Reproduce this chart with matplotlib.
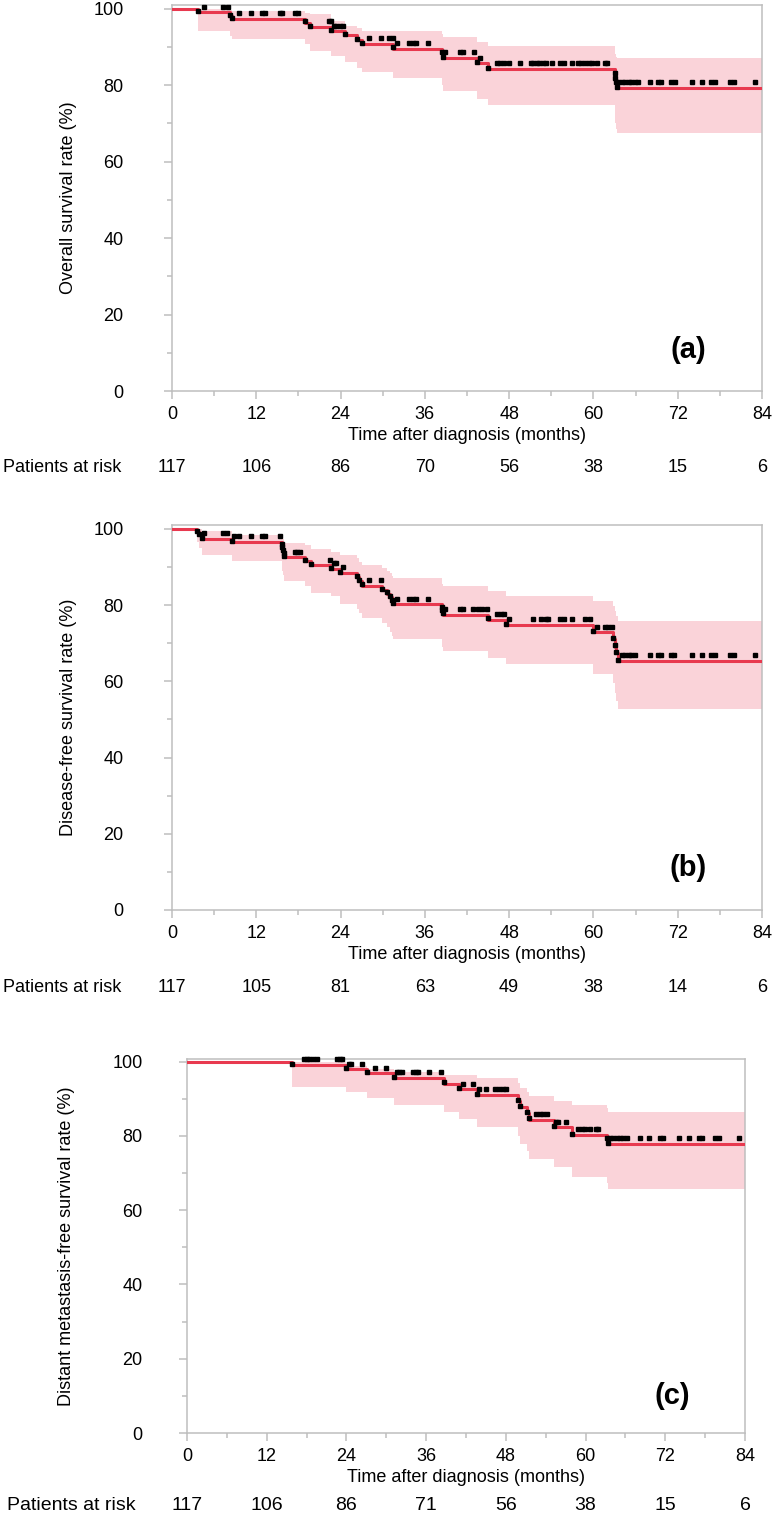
import numpy as np
import matplotlib
matplotlib.use("Agg")
import matplotlib.pyplot as plt
from matplotlib.ticker import MultipleLocator

plt.rcParams['font.family'] = ['Liberation Sans', 'DejaVu Sans']

# ---------------- data ----------------
x_ticks = [0, 12, 24, 36, 48, 60, 72, 84]
y_ticks = [0, 20, 40, 60, 80, 100]

# Panel (a) overall survival
a_time = [0, 3.7, 8.2, 8.6, 18.9, 19.6, 22.7, 24.6, 26.3, 27.0, 31.5, 38.4, 38.6,
          43.4, 45.0, 63.0, 63.1, 63.2, 63.3]
a_surv = [100, 99.1, 98.2, 97.3, 96.4, 95.3, 94.1, 93.1, 91.9, 90.8, 89.6, 88.3, 87.1,
          85.7, 84.2, 83.0, 81.7, 80.5, 79.3]
a_lower = [100, 94.3, 93.0, 92.1, 90.8, 89.0, 87.7, 86.0, 84.6, 83.4, 81.9, 80.0, 78.4,
           76.4, 74.9, 72.0, 70.0, 68.5, 67.4]
a_upper = [100, 100, 99.6, 99.4, 98.9, 98.7, 96.9, 95.6, 94.9, 94.3, 94.1, 93.3, 92.5,
           91.2, 90.3, 89.0, 88.2, 87.5, 87.1]
a_cens = [4.5, 7.3, 8.0, 9.5, 11.3, 12.8, 13.2, 15.4, 15.7, 17.5, 18.0, 22.3, 22.6, 23.0,
          23.4, 23.9, 24.3, 28.1, 29.8, 30.9, 31.4, 32.0, 33.8, 34.3, 34.7, 36.4, 38.8,
          41.0, 41.4, 43.0, 43.8, 46.2, 46.7, 47.2, 48.0, 49.5, 51.1, 51.4, 51.9, 52.3,
          52.8, 53.2, 54.1, 55.3, 55.8, 57.0, 57.8, 58.3, 58.8, 59.3, 59.8, 60.5, 61.7,
          62.0, 63.5, 64.0, 64.5, 65.0, 65.4, 65.9, 66.4, 68.1, 69.2, 69.6, 71.1, 71.6,
          74.0, 75.4, 76.8, 77.3, 79.4, 80.0, 83.0]
a_risk = [117, 106, 86, 70, 56, 38, 15, 6]

# Panel (b) disease-free survival
b_time = [0, 3.5, 3.9, 4.3, 8.5, 15.6, 15.7, 15.8, 15.9, 16.0, 18.9, 19.8, 22.7, 23.9,
          26.3, 26.6, 27.0, 29.9, 30.6, 31.0, 31.3, 31.5, 38.4, 38.5, 38.6, 45.0, 47.6,
          60.0, 62.8, 63.0, 63.2, 63.5]
b_surv = [100, 99.1, 98.3, 97.4, 96.6, 95.8, 95.0, 94.1, 93.3, 92.5, 91.5, 90.4, 89.5,
          88.4, 87.3, 86.2, 85.1, 83.9, 83.0, 82.0, 81.1, 80.2, 79.3, 78.4, 77.5, 76.2,
          74.8, 72.8, 71.0, 69.1, 67.3, 65.4]
b_lower = [100, 96.5, 95.0, 93.2, 91.5, 90.0, 89.0, 88.0, 87.0, 86.2, 85.0, 83.2, 82.3,
           80.2, 79.0, 77.8, 76.7, 75.3, 74.2, 73.0, 72.0, 71.0, 70.0, 69.0, 68.0, 66.2,
           64.5, 61.9, 59.5, 57.0, 54.8, 52.8]
b_upper = [100, 100, 100, 99.3, 98.4, 98.0, 97.6, 97.2, 96.8, 96.3, 95.7, 94.7, 94.0,
           93.2, 92.3, 91.4, 90.6, 89.8, 89.0, 88.3, 87.7, 87.1, 86.4, 85.6, 84.9, 83.6,
           82.5, 81.0, 79.8, 78.5, 77.1, 75.8]
b_cens = [4.5, 7.3, 7.8, 8.8, 9.5, 11.3, 12.8, 13.2, 15.4, 17.5, 17.8, 18.2, 22.5, 23.0,
          23.4, 24.3, 28.1, 29.8, 32.0, 33.8, 34.3, 34.7, 36.4, 38.8, 41.0, 41.5, 42.9,
          43.6, 44.1, 44.8, 46.3, 46.8, 47.3, 48.0, 51.4, 52.5, 53.2, 53.6, 55.2, 55.8,
          57.0, 58.8, 59.5, 60.5, 61.6, 62.1, 62.6, 64.0, 64.5, 65.0, 65.4, 65.9, 68.1,
          69.2, 69.6, 71.1, 71.4, 74.0, 75.4, 76.8, 77.3, 79.4, 80.0, 83.0]
b_risk = [117, 105, 81, 63, 49, 38, 14, 6]

# Panel (c) distant metastasis-free survival
c_time = [0, 15.8, 24.0, 27.1, 31.1, 38.7, 41.0, 43.6, 49.8, 50.1, 51.2, 51.5, 55.3,
          58.0, 63.3, 63.4]
c_surv = [100, 99.1, 97.9, 96.8, 95.6, 94.1, 92.6, 91.0, 89.4, 87.7, 86.1, 84.4, 82.3,
          80.3, 79.1, 77.9]
c_lower = [100, 93.2, 91.8, 90.1, 88.4, 86.3, 84.5, 82.5, 80.0, 77.9, 76.0, 73.9, 71.7,
           69.0, 67.3, 65.7]
c_upper = [100, 100, 98.8, 97.9, 97.3, 96.5, 96.3, 95.5, 94.2, 93.0, 91.8, 90.8, 89.4,
           88.3, 87.4, 86.5]
c_cens = [17.6, 18.1, 18.4, 19.0, 19.6, 22.6, 23.0, 23.4, 24.4, 24.7, 26.4, 28.3, 29.9,
          31.6, 31.9, 32.3, 34.0, 34.4, 34.8, 36.5, 38.3, 41.5, 43.0, 44.0, 45.0, 46.3,
          47.0, 47.5, 48.0, 52.6, 53.1, 53.6, 54.2, 55.6, 55.8, 57.1, 58.9, 59.4, 59.9,
          60.6, 61.6, 61.9, 63.7, 64.2, 64.7, 65.2, 65.7, 66.2, 68.2, 69.5, 71.2, 71.7,
          74.1, 75.5, 77.0, 77.5, 79.5, 80.1, 83.1]
c_risk = [117, 106, 86, 71, 56, 38, 15, 6]

ylabels = ["Overall survival rate (%)", "Disease-free survival rate (%)",
           "Distant metastasis-free survival rate (%)"]
panel_tags = ["(a)", "(b)", "(c)"]
xlabel = "Time after diagnosis (months)"
risk_title = "Patients at risk"

# ---------------- style ----------------
RED = '#E8394F'
PINK = '#FAD3D9'
GRAY = '#BEBEBE'
FS = 13
MS = 2.2

W, H = 774, 1514
fig = plt.figure(figsize=(W / 100, H / 100), dpi=100)

layouts = [
    dict(left=172, right=762, top=5, zero=391, ymax=101, ylab_x=77, ypad=29,
         tag=(0.875, 0.106), risk_off=77, risk_x=3, risk_fs=13),
    dict(left=172, right=762, top=525, zero=910, ymax=101, ylab_x=77, ypad=29,
         tag=(0.875, 0.109), risk_off=77, risk_x=3, risk_fs=13),
    dict(left=187, right=745, top=1059, zero=1433, ymax=100.7, ylab_x=75, ypad=26,
         tag=(0.869, 0.099), risk_off=73, risk_x=7, risk_fs=14),
]

datasets = [
    (a_time, a_surv, a_lower, a_upper, a_cens, a_risk),
    (b_time, b_surv, b_lower, b_upper, b_cens, b_risk),
    (c_time, c_surv, c_lower, c_upper, c_cens, c_risk),
]

for i, (lay, (t, s, lo, up, cens, risk)) in enumerate(zip(layouts, datasets)):
    ax = fig.add_axes([lay['left'] / W, (H - lay['zero']) / H,
                       (lay['right'] - lay['left']) / W,
                       (lay['zero'] - lay['top']) / H])
    tt = np.array(t + [84.0])
    ss = np.array(s + [s[-1]])
    ll = np.array(lo + [lo[-1]])
    uu = np.array(up + [up[-1]])

    ax.fill_between(tt, ll, uu, step='post', color=PINK, linewidth=0, zorder=1)
    ax.step(tt, ss, where='post', color=RED, linewidth=2.2, zorder=3)

    # event marks at step corners
    ax.plot(t[1:], np.array(s[1:]) + 0.3, 's', color='black', markersize=MS,
            zorder=4, clip_on=False)
    # censor marks
    cens = np.array(cens)
    idx = np.searchsorted(np.array(t), cens, side='right') - 1
    cy = np.array(s)[idx] + 1.5
    ax.plot(cens, cy, 's', color='black', markersize=MS, zorder=4, clip_on=False)

    ax.set_xlim(0, 84)
    ax.set_ylim(0, lay['ymax'])
    ax.set_xticks(x_ticks)
    ax.set_yticks(y_ticks)
    ax.xaxis.set_minor_locator(MultipleLocator(6))
    ax.yaxis.set_minor_locator(MultipleLocator(10))
    ax.tick_params(axis='both', which='major', length=6, width=1.1, color=GRAY,
                   labelsize=FS, labelcolor='black')
    ax.tick_params(axis='both', which='minor', length=3.5, width=1.1, color=GRAY)
    ax.tick_params(axis='x', which='major', pad=5)
    ax.tick_params(axis='y', which='major', pad=lay['ypad'])
    for sp in ax.spines.values():
        sp.set_color(GRAY)
        sp.set_linewidth(1.1)

    ax.set_xlabel(xlabel, fontsize=FS, labelpad=2.5)
    ax.set_ylabel(ylabels[i], fontsize=FS)
    axw = lay['right'] - lay['left']
    ax.yaxis.set_label_coords((lay['ylab_x'] - lay['left']) / axw, 0.5)

    ax.text(lay['tag'][0], lay['tag'][1], panel_tags[i], transform=ax.transAxes,
            fontsize=21, fontweight='bold', ha='center', va='center')

    # numbers at risk
    off = -lay['risk_off'] * 72 / 100
    for xv, n in zip(x_ticks, risk):
        ax.annotate(str(n), xy=(xv, 0), xycoords=('data', 'axes fraction'),
                    xytext=(0, off), textcoords='offset points',
                    ha='center', va='center', fontsize=lay['risk_fs'],
                    annotation_clip=False)
    ax.annotate(risk_title, xy=(lay['risk_x'] / W, 0),
                xycoords=('figure fraction', 'axes fraction'),
                xytext=(0, off), textcoords='offset points',
                ha='left', va='center', fontsize=lay['risk_fs'], annotation_clip=False)

fig.savefig('out.png', dpi=100)
